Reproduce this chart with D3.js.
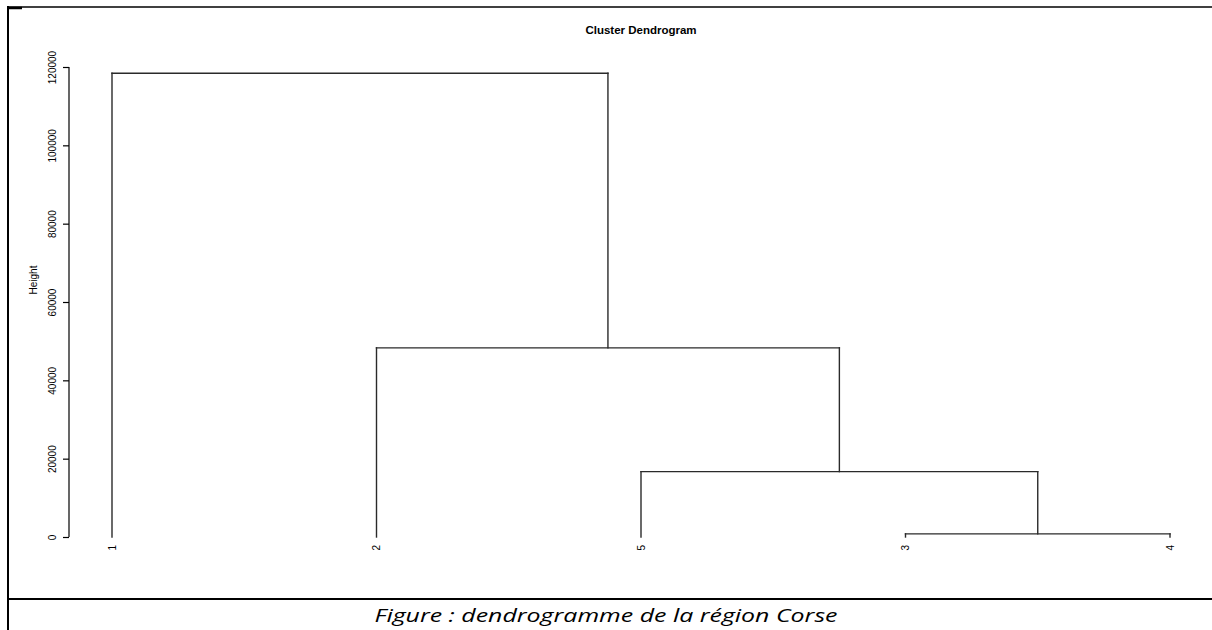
<!DOCTYPE html>
<html>
<head>
<meta charset="utf-8">
<script src="https://cdn.jsdelivr.net/npm/d3@7"></script>
<style>
  html, body { margin: 0; padding: 0; background: #fff; }
  svg { display: block; }
</style>
</head>
<body>
<svg id="chart" width="1212" height="630"></svg>
<script>
// ---- data ----
const leafLabels = ["1", "2", "3", "4", "5"];
const leafOrder = ["1", "2", "5", "3", "4"];
// hclust-style merge table: negative = leaf index (1-based), positive = earlier merge step
const mergeA = [-3, -5, -2, -1];
const mergeB = [-4, 1, 2, 3];
const mergeHeights = [800, 16700, 48300, 118400];
const yTicks = [0, 20000, 40000, 60000, 80000, 100000, 120000];
const title = "Cluster Dendrogram";
const yLabel = "Height";
const caption = "Figure : dendrogramme de la région Corse";

// ---- layout ----
const svg = d3.select("#chart");
const W = 1212, H = 630;

const x = d3.scalePoint().domain(leafOrder).range([112, 1170]);
const y = d3.scaleLinear().domain([0, 120000]).range([537, 67]);

// frame
svg.append("line").attr("x1", 7).attr("x2", W).attr("y1", 7).attr("y2", 7)
  .attr("stroke", "#000").attr("stroke-width", 1.5);
svg.append("line").attr("x1", 7).attr("x2", 22).attr("y1", 8).attr("y2", 8)
  .attr("stroke", "#000").attr("stroke-width", 2.5);
svg.append("line").attr("x1", 8).attr("x2", 8).attr("y1", 6).attr("y2", H)
  .attr("stroke", "#000").attr("stroke-width", 2);
svg.append("line").attr("x1", 7).attr("x2", W).attr("y1", 599).attr("y2", 599)
  .attr("stroke", "#000").attr("stroke-width", 2);

// compute node positions
const nodes = []; // merge nodes
function pos(id) {
  if (id < 0) {
    const lab = leafLabels[-id - 1];
    return { x: x(lab), h: 0 };
  }
  return nodes[id - 1];
}
const segs = [];
mergeA.forEach((a, i) => {
  const pa = pos(a), pb = pos(mergeB[i]);
  const h = mergeHeights[i];
  segs.push([pa.x, pa.h, pa.x, h]);
  segs.push([pb.x, pb.h, pb.x, h]);
  segs.push([pa.x, h, pb.x, h]);
  nodes.push({ x: (pa.x + pb.x) / 2, h: h });
});

svg.append("g").selectAll("line").data(segs).join("line")
  .attr("x1", d => d[0]).attr("y1", d => y(d[1]))
  .attr("x2", d => d[2]).attr("y2", d => y(d[3]))
  .attr("stroke", "#2a2a2a").attr("stroke-width", 1.4)
  .attr("stroke-linecap", "square");

// y axis
const axisG = svg.append("g").attr("transform", "translate(69,0)")
  .call(d3.axisLeft(y).tickValues(yTicks).tickSize(6).tickFormat(d3.format("d")));
axisG.select(".domain").attr("stroke", "#000").attr("stroke-width", 1.2)
  .attr("d", `M0,${y(0)}V${y(120000)}`);
axisG.selectAll(".tick line").attr("stroke", "#000").attr("stroke-width", 1.2);
axisG.selectAll(".tick text")
  .attr("x", null).attr("dy", null)
  .attr("text-anchor", "middle")
  .attr("transform", "translate(-17,0) rotate(-90)")
  .attr("dy", "0.35em")
  .attr("font-family", "Liberation Sans, Arial, sans-serif")
  .attr("font-size", 10).attr("fill", "#000");

// leaf labels
svg.append("g").selectAll("text").data(leafOrder).join("text")
  .attr("transform", d => `translate(${x(d)},545) rotate(-90)`)
  .attr("text-anchor", "end").attr("dy", "0.35em")
  .attr("font-family", "Liberation Sans, Arial, sans-serif")
  .attr("font-size", 10).attr("fill", "#000")
  .text(d => d);

// title
svg.append("text").attr("x", 641).attr("y", 34).attr("text-anchor", "middle")
  .attr("font-family", "Liberation Sans, Arial, sans-serif")
  .attr("font-weight", "bold").attr("font-size", 11.5).text(title);

// y label
svg.append("text").attr("transform", "translate(33,280) rotate(-90)")
  .attr("text-anchor", "middle").attr("dy", "0.35em")
  .attr("font-family", "Liberation Sans, Arial, sans-serif")
  .attr("font-size", 10).text(yLabel);

// caption
svg.append("text").attr("x", 606).attr("y", 622).attr("text-anchor", "middle")
  .attr("font-family", "Open Sans, Noto Sans, sans-serif")
  .attr("font-style", "italic").attr("font-size", 18.5)
  .attr("textLength", 463).attr("lengthAdjust", "spacingAndGlyphs")
  .text(caption);
</script>
</body>
</html>
